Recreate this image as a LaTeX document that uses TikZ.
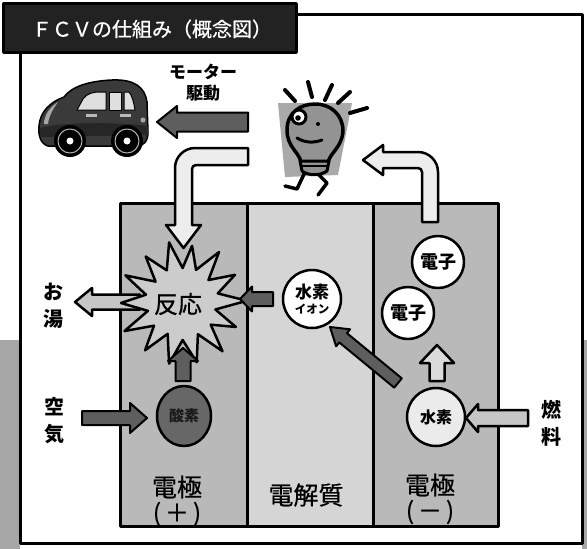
\documentclass[tikz,border=0pt]{standalone}
\usepackage{fontspec}
\setmainfont{Noto Sans CJK JP}
\newfontfamily\jpmedium{Noto Sans CJK JP}[FakeBold=0.6]
\usetikzlibrary{calc,shapes.geometric}

\definecolor{stripgray}{HTML}{A6A6A6}
\definecolor{titlebg}{HTML}{222222}
\definecolor{electrode}{HTML}{B9B9B9}
\definecolor{electrolyte}{HTML}{D5D5D5}
\definecolor{arrowdark}{HTML}{5E5E5E}
\definecolor{arrowlight}{HTML}{EDEDED}
\definecolor{arrowmid}{HTML}{C6C6C6}
\definecolor{cardark}{HTML}{3A3A3A}
\definecolor{bulbgray}{HTML}{939393}
\definecolor{bulbback}{HTML}{A9A9A9}
\definecolor{oxyfill}{HTML}{676767}

% block arrow: style, tail, tip, half shaft width, half head width, head length
\newcommand\blockarrow[6]{%
  \draw[#1] ($(#2)!#4!90:(#3)$)
    -- ($(#3)!#6!(#2)!#4!-90:(#2)$)
    -- ($(#3)!#6!(#2)!#5!-90:(#2)$)
    -- (#3)
    -- ($(#3)!#6!(#2)!#5!90:(#2)$)
    -- ($(#3)!#6!(#2)!#4!90:(#2)$)
    -- ($(#2)!#4!-90:(#3)$) -- cycle;}

\begin{document}
\begin{tikzpicture}[x=1pt,y=-1pt,line join=round,
  darkarrow/.style={draw=black,line width=2pt,fill=arrowdark},
  lightarrow/.style={draw=black,line width=2.5pt,fill=arrowlight},
  midarrow/.style={draw=black,line width=2.5pt,fill=arrowmid},
  sidelabel/.style={font=\bfseries\fontsize{20}{27}\selectfont,align=center,inner sep=0pt},
  bigtext/.style={font=\jpmedium\fontsize{25}{26}\selectfont,align=center,inner sep=0pt},
  signtext/.style={font=\jpmedium\fontsize{24}{24}\selectfont,inner sep=0pt},
  particle/.style={circle,draw=black,line width=2.5pt,fill=white,inner sep=0pt,
    font=\bfseries\fontsize{18}{18}\selectfont},
  ray/.style={line width=4pt,line cap=round}]
\useasboundingbox (0,0) rectangle (587,549);

% textured side strips
\fill[stripgray] (0,340) rectangle (20,549);
\fill[stripgray] (582,340) rectangle (587,549);

% outer frame and title plate
\filldraw[fill=white,line width=3pt] (20,14) rectangle (582,543);
\filldraw[fill=titlebg,line width=3pt] (3,3) rectangle (296,52);
\node[text=white,font=\jpmedium\fontsize{20}{20}\selectfont,inner sep=0pt] (title) at (152,29) {ＦＣＶの仕組み（概念図）};

% car
\begin{scope}[line width=1.5pt]
  \filldraw[fill=cardark] (48,146) .. controls (41,144) and (38,136) .. (39,126)
    .. controls (40,112) and (50,102) .. (64,97)
    .. controls (72,86) and (90,81) .. (112,80)
    .. controls (134,79) and (145,87) .. (147,102) -- (148,132)
    .. controls (148,142) and (143,146) .. (137,146) -- cycle;
  \fill[black!85] (40,128) .. controls (60,122) and (120,122) .. (148,126) -- (148,135) -- (40,137) -- cycle;
  \fill[gray!70] (44,124) .. controls (44,115) and (50,107) .. (58,102) .. controls (53,109) and (49,116) .. (48,124) -- cycle;
  \filldraw[fill=gray!25,line width=1pt] (77,110) -- (83,99) .. controls (87,93) and (94,92) .. (100,92) -- (106,92) -- (106,110) -- cycle;
  \filldraw[fill=gray!25,line width=1pt] (109,92) -- (121,92) -- (121,110) -- (109,110) -- cycle;
  \filldraw[fill=gray!25,line width=1pt] (124,92) -- (129,92) .. controls (132,95) and (134,103) .. (135,110) -- (124,110) -- cycle;
  \fill[gray!55] (86,114) rectangle (97,117);
  \fill[gray!55] (120,114) rectangle (131,117);
  \fill[gray!70] (143,120) circle (2.5pt);
  \fill[black] (70,141) circle (16pt);
  \fill[black] (127,141) circle (16pt);
  \filldraw[fill=black,draw=gray!60,line width=1pt] (70,141) circle (12pt);
  \filldraw[fill=black,draw=gray!60,line width=1pt] (127,141) circle (12pt);
  \fill[white] (70,141) circle (3.5pt);
  \fill[white] (127,141) circle (3.5pt);
\end{scope}

% motor drive arrow and label
\coordinate (motor-tail) at (248,122);
\coordinate (motor-tip) at (157,122);
\blockarrow{darkarrow}{motor-tail}{motor-tip}{9.5pt}{16pt}{20pt}
\node[font=\bfseries\fontsize{17}{21}\selectfont,align=center,inner sep=0pt] (motor) at (203,83) {モーター\\駆動};

% walking light bulb
\fill[bulbback] (278,103) -- (352,103) -- (338,175) -- (285,177) -- cycle;
\draw[ray] (285,90) -- (295,101);
\draw[ray] (308,82) -- (312,97);
\draw[ray] (332,85) -- (325,100);
\draw[ray] (350,92) -- (338,103);
\draw[ray] (367,108) -- (350,113);
\draw[line width=3.5pt,line cap=round] (305,172) -- (297,189) -- (285,186);
\draw[line width=3.5pt,line cap=round] (316,172) -- (327,183) -- (318,195);
\filldraw[fill=bulbgray,line width=3.5pt] (301,162) .. controls (299,152) and (287,147) .. (287,130)
  .. controls (287,113) and (300,104) .. (315,104)
  .. controls (331,104) and (343,115) .. (343,131)
  .. controls (342,147) and (331,152) .. (328,162) -- cycle;
\filldraw[fill=bulbgray,line width=3pt] (300,161) -- (329,161) -- (327,171)
  .. controls (320,176) and (309,176) .. (302,171) -- cycle;
\draw[line width=2.5pt] (301,166) -- (328,166);
\filldraw[fill=white,line width=3pt] (299,117) circle (7pt);
\fill[black] (298,118) circle (2.8pt);
\fill[black] (318,124) circle (2pt);
\draw[line width=3pt,line cap=round] (297,138) .. controls (305,143) and (314,143) .. (322,140);

% fuel cell: two electrodes around the electrolyte
\filldraw[fill=electrode,line width=3pt] (120,203) rectangle (247,526);
\filldraw[fill=electrolyte,line width=3pt] (247,203) rectangle (373,526);
\filldraw[fill=electrode,line width=3pt] (373,203) rectangle (498,526);

% electron return path through the bulb and on to the reaction
\draw[lightarrow] (248,148) -- (195,148) arc[start angle=90,end angle=180,radius=20pt]
  -- (175,225) -- (166,225) -- (183.5,248) -- (201,225) -- (192,225)
  -- (192,169) arc[start angle=180,end angle=90,radius=4pt] -- (248,165) -- cycle;
\draw[lightarrow] (422,222) -- (422,172) arc[start angle=0,end angle=90,radius=4pt]
  -- (383,168) -- (383,175) -- (363,160) -- (383,145) -- (383,152)
  -- (418,152) arc[start angle=90,end angle=0,radius=20pt] -- (438,222) -- cycle;

% hot water out of the reaction
\coordinate (water-tail) at (140,302);
\coordinate (water-tip) at (75,302);
\blockarrow{midarrow}{water-tail}{water-tip}{7.5pt}{14pt}{17pt}
\node[sidelabel] (water) at (53,306) {お\\湯};

% reaction burst
\coordinate (rc) at (182,303);
\filldraw[fill=gray!40,line width=2.5pt]
  ([shift={(rc)}]-80:58)
  \foreach \a/\r in {-67/36,-54/63,-41/35,-28/60,-15/37,-2/65,11/34,24/59,37/36,50/63,
      63/35,76/61,89/37,102/62,115/34,128/60,141/36,154/64,167/35,180/61,
      193/37,206/63,219/34,232/59,245/36,258/62,271/35}
    { -- ([shift={(rc)}]\a:\r) } -- cycle;
\node[font=\jpmedium\fontsize{24}{24}\selectfont,inner sep=0pt] (reaction) at (178,304) {反応};

% particles
\node[particle,minimum size=58pt,font=\bfseries\fontsize{17}{16}\selectfont,align=center] (ion) at (312,299)
  {水素\\[-1pt]{\fontsize{11.5}{11.5}\selectfont イオン}};
\node[particle,minimum size=52pt] (e1) at (438,262) {電子};
\node[particle,minimum size=52pt] (e2) at (408,313) {電子};
\node[particle,minimum size=58pt,fill=white!92!black,font=\bfseries\fontsize{16}{16}\selectfont] (h2) at (436,417) {水素};
\node[ellipse,draw=black,line width=2.5pt,fill=oxyfill,inner sep=0pt,minimum width=54pt,minimum height=60pt,
  font=\bfseries\fontsize{15}{15}\selectfont,text=black!90] (o2) at (184,416) {酸素};

% flows inside the cell
\coordinate (oxy-tail) at (183,381);
\coordinate (oxy-tip) at (183,348);
\blockarrow{darkarrow}{oxy-tail}{oxy-tip}{7.5pt}{15pt}{13pt}
\coordinate (ion-tail) at (273,299);
\coordinate (ion-tip) at (240,299);
\blockarrow{darkarrow}{ion-tail}{ion-tip}{7pt}{12.5pt}{12pt}
\coordinate (diag-tail) at (398,383);
\coordinate (diag-tip) at (330,327);
\blockarrow{darkarrow}{diag-tail}{diag-tip}{6pt}{11pt}{17pt}
\coordinate (hup-tail) at (437,381);
\coordinate (hup-tip) at (437,345);
\blockarrow{midarrow,fill=gray!28}{hup-tail}{hup-tip}{7.5pt}{17pt}{18pt}

% air and fuel supply
\coordinate (air-tail) at (82,418);
\coordinate (air-tip) at (147,418);
\blockarrow{darkarrow}{air-tail}{air-tip}{7pt}{15pt}{17pt}
\node[sidelabel] (air) at (55,421) {空\\気};
\coordinate (fuel-tail) at (528,418);
\coordinate (fuel-tip) at (466,418);
\blockarrow{midarrow}{fuel-tail}{fuel-tip}{8pt}{14pt}{12pt}
\node[sidelabel] (fuel) at (551,423) {燃\\料};

% electrode and electrolyte labels
\node[bigtext] (cathode) at (177,487) {電極};
\node[signtext] (plus) at (177,514) {(\,＋\,)};
\node[bigtext] (electrolyte) at (306,495) {電解質};
\node[bigtext] (anode) at (430,485) {電極};
\node[signtext] (minus) at (430,512) {(\,－\,)};
\end{tikzpicture}
\end{document}
